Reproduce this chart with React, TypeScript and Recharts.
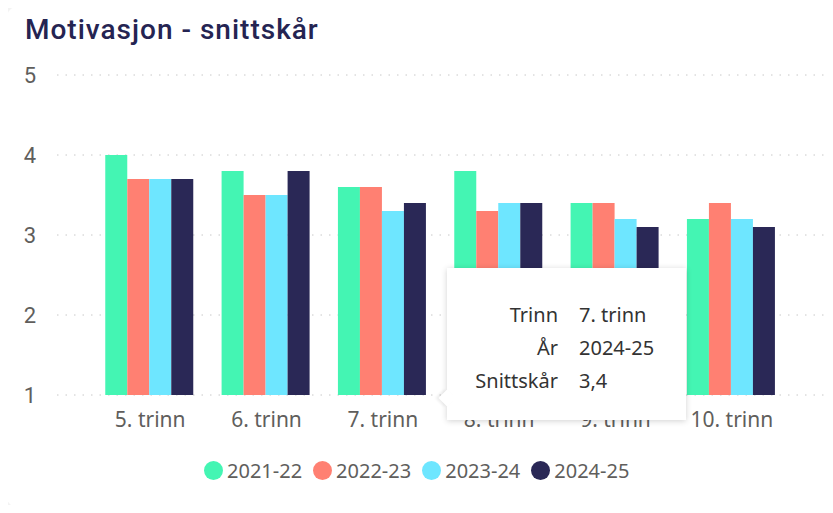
import { BarChart, Bar, XAxis, YAxis, CartesianGrid, Tooltip } from "recharts";

const trinn = ["5. trinn", "6. trinn", "7. trinn", "8. trinn", "9. trinn", "10. trinn"];
const years = ["2021-22", "2022-23", "2023-24", "2024-25"];
const colors = ["#44F5B3", "#FF8072", "#6EE6FF", "#2A2856"];

const v2122 = [4.0, 3.8, 3.6, 3.8, 3.4, 3.2];
const v2223 = [3.7, 3.5, 3.6, 3.3, 3.4, 3.4];
const v2324 = [3.7, 3.5, 3.3, 3.4, 3.2, 3.2];
const v2425 = [3.7, 3.8, 3.4, 3.4, 3.1, 3.1];
const yTicks = [1, 2, 3, 4, 5];

const seriesValues = [v2122, v2223, v2324, v2425];

const data = trinn.map((name, i) => {
  const row: any = { name };
  years.forEach((y, j) => {
    row[y] = seriesValues[j][i];
  });
  return row;
});

const TipBox = ({ payload, label }: any) => {
  if (!payload || !payload.length) return null;
  const item = payload.find((p: any) => p.dataKey === "2024-25") || payload[0];
  const rows = [
    ["Trinn", label],
    ["År", item.dataKey],
    ["Snittskår", String(item.value).replace(".", ",")],
  ];
  return (
    <div
      style={{
        position: "relative",
        width: 239,
        height: 152,
        boxSizing: "border-box",
        background: "#fff",
        boxShadow: "0 1px 6px rgba(0,0,0,0.18)",
        fontFamily: "'Noto Sans', sans-serif",
        fontSize: 20,
        color: "#333",
        paddingTop: 30,
      }}
    >
      <div
        style={{
          position: "absolute",
          left: -6,
          top: 124,
          width: 12,
          height: 12,
          background: "#fff",
          transform: "rotate(45deg)",
          boxShadow: "-2px 2px 3px rgba(0,0,0,0.08)",
        }}
      />
      {rows.map(([k, v]) => (
        <div key={k} style={{ display: "flex", height: 33, lineHeight: "33px", position: "relative" }}>
          <div style={{ width: 111, textAlign: "right" }}>{k}</div>
          <div style={{ marginLeft: 21 }}>{v}</div>
        </div>
      ))}
    </div>
  );
};

export default function App() {
  return (
    <div style={{ position: "relative", margin: -8, width: 833, height: 513, background: "#f3f3f3", overflow: "hidden" }}>
      <div
        style={{
          position: "absolute",
          left: 7,
          top: 7,
          width: 850,
          height: 500,
          background: "#fff",
          borderRadius: 10,
        }}
      />
      <div
        style={{
          position: "absolute",
          left: 25,
          top: 13,
          fontFamily: "Roboto, sans-serif",
          fontSize: 28,
          letterSpacing: 1,
          fontWeight: 500,
          color: "#252452",
        }}
      >
        Motivasjon - snittskår
      </div>
      <div style={{ position: "absolute", left: 0, top: 0 }}>
        <BarChart
          width={833}
          height={435}
          data={data}
          margin={{ top: 75, right: 8, left: 0, bottom: 0 }}
          barCategoryGap="11.4%"
          barGap={0}
        >
          <CartesianGrid vertical={false} stroke="#c8c8c8" strokeDasharray="1.5 7" />
          <XAxis
            dataKey="name"
            tickLine={false}
            axisLine={false}
            height={40}
            tickMargin={11}
            padding={{ left: 35, right: 35 }}
            tick={{ fill: "#605E5C", fontSize: 21, fontFamily: "'Noto Sans', sans-serif" }}
          />
          <YAxis
            domain={[1, 5]}
            ticks={yTicks}
            width={57}
            tickLine={false}
            axisLine={false}
            tickMargin={15}
            tick={{ fill: "#605E5C", fontSize: 22, fontFamily: "Roboto, sans-serif" }}
          />
          <Tooltip
            content={<TipBox />}
            defaultIndex={2}
            active={true}
            position={{ x: 447, y: 268 }}
            cursor={false}
            isAnimationActive={false}
            wrapperStyle={{ outline: "none" }}
          />
          {years.map((y, j) => (
            <Bar key={y} dataKey={y} fill={colors[j]} isAnimationActive={false} />
          ))}
        </BarChart>
      </div>
      <div
        style={{
          position: "absolute",
          top: 457,
          left: 204,
          display: "flex",
          fontFamily: "'Noto Sans', sans-serif",
          fontSize: 20,
          color: "#605E5C",
        }}
      >
        {years.map((y, j) => (
          <div key={y} style={{ display: "flex", alignItems: "center", marginRight: 11, height: 26 }}>
            <span
              style={{
                display: "inline-block",
                width: 19,
                height: 19,
                borderRadius: 10,
                background: colors[j],
                marginRight: 4,
              }}
            />
            <span>{y}</span>
          </div>
        ))}
      </div>
    </div>
  );
}
